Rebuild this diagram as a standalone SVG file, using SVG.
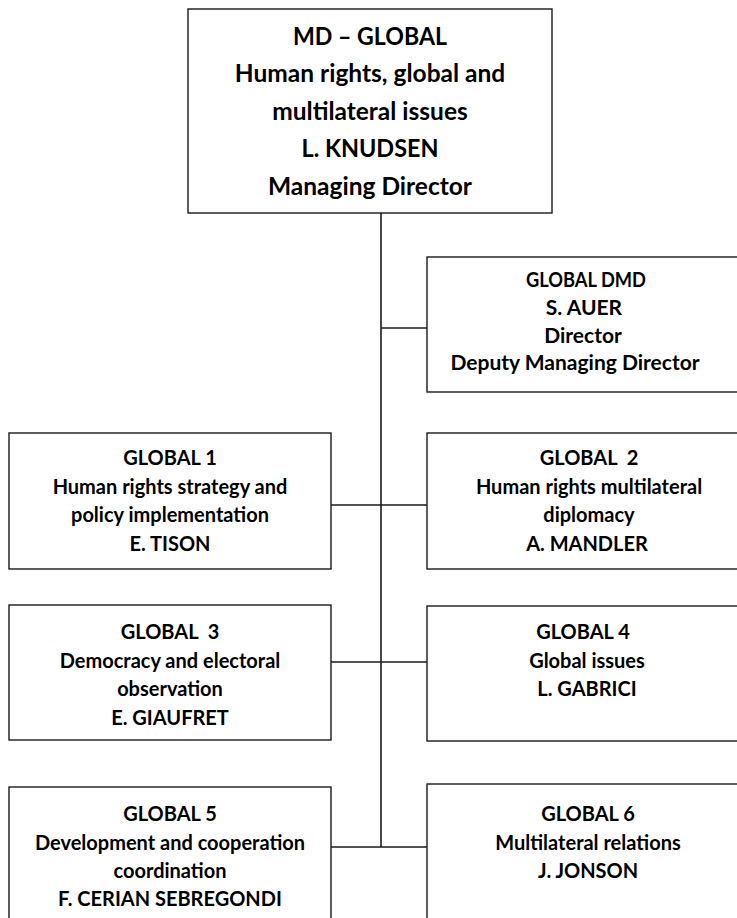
<svg xmlns="http://www.w3.org/2000/svg" width="737" height="918" viewBox="0 0 737 918">
  <style>
    .box { fill: #ffffff; stroke: #1a1a1a; stroke-width: 1.4; }
    .wire { fill: none; stroke: #1a1a1a; stroke-width: 1.6; }
    text { font-family: Lato, "Noto Sans", "Liberation Sans", sans-serif; font-weight: bold; fill: #000; text-anchor: middle; }
    .big { font-size: 24.5px; }
    .sm { font-size: 20px; }
    .mid { font-size: 21px; }
  </style>

  <!-- reporting lines -->
  <g id="connectors">
    <line class="wire" x1="381" y1="213" x2="381" y2="847"/>
    <line class="wire" x1="381" y1="328" x2="427" y2="328"/>
    <line class="wire" x1="331" y1="505" x2="427" y2="505"/>
    <line class="wire" x1="331" y1="662" x2="427" y2="662"/>
    <line class="wire" x1="331" y1="847" x2="427" y2="847"/>
  </g>

  <g id="md-global">
    <rect class="box" x="188" y="9" width="364" height="204"/>
    <text class="big" x="370" y="45" textLength="154" lengthAdjust="spacingAndGlyphs">MD – GLOBAL</text>
    <text class="big" x="370" y="82">Human rights, global and</text>
    <text class="big" x="370" y="120">multilateral issues</text>
    <text class="big" x="370" y="157" textLength="137" lengthAdjust="spacingAndGlyphs">L. KNUDSEN</text>
    <text class="big" x="370" y="195">Managing Director</text>
  </g>

  <g id="global-dmd">
    <rect class="box" x="427" y="257" width="330" height="135"/>
    <text class="mid" x="586" y="287" textLength="120" lengthAdjust="spacingAndGlyphs">GLOBAL DMD</text>
    <text class="mid" x="584" y="315">S. AUER</text>
    <text class="mid" x="583" y="343">Director</text>
    <text class="mid" x="575" y="370">Deputy Managing Director</text>
  </g>

  <g id="global-1">
    <rect class="box" x="9" y="433" width="322" height="136"/>
    <text class="sm" x="170" y="465">GLOBAL 1</text>
    <text class="sm" x="170" y="494">Human rights strategy and</text>
    <text class="sm" x="170" y="522">policy implementation</text>
    <text class="sm" x="170" y="551">E. TISON</text>
  </g>

  <g id="global-2">
    <rect class="box" x="427" y="433" width="330" height="136"/>
    <text class="sm" x="589" y="465" xml:space="preserve">GLOBAL  2</text>
    <text class="sm" x="589" y="494">Human rights multilateral</text>
    <text class="sm" x="589" y="522">diplomacy</text>
    <text class="sm" x="587" y="551">A. MANDLER</text>
  </g>

  <g id="global-3">
    <rect class="box" x="9" y="605" width="322" height="135"/>
    <text class="sm" x="170" y="639" xml:space="preserve">GLOBAL  3</text>
    <text class="sm" x="170" y="668">Democracy and electoral</text>
    <text class="sm" x="170" y="696">observation</text>
    <text class="sm" x="170" y="725">E. GIAUFRET</text>
  </g>

  <g id="global-4">
    <rect class="box" x="427" y="606" width="330" height="135"/>
    <text class="sm" x="583" y="639">GLOBAL 4</text>
    <text class="sm" x="587" y="668">Global issues</text>
    <text class="sm" x="587" y="696">L. GABRICI</text>
  </g>

  <g id="global-5">
    <rect class="box" x="9" y="787" width="322" height="150"/>
    <text class="sm" x="170" y="821">GLOBAL 5</text>
    <text class="sm" x="170" y="850">Development and cooperation</text>
    <text class="sm" x="170" y="878">coordination</text>
    <text class="sm" x="170" y="906">F. CERIAN SEBREGONDI</text>
  </g>

  <g id="global-6">
    <rect class="box" x="427" y="784" width="330" height="150"/>
    <text class="sm" x="588" y="821">GLOBAL 6</text>
    <text class="sm" x="588" y="850">Multilateral relations</text>
    <text class="sm" x="588" y="878">J. JONSON</text>
  </g>
</svg>
